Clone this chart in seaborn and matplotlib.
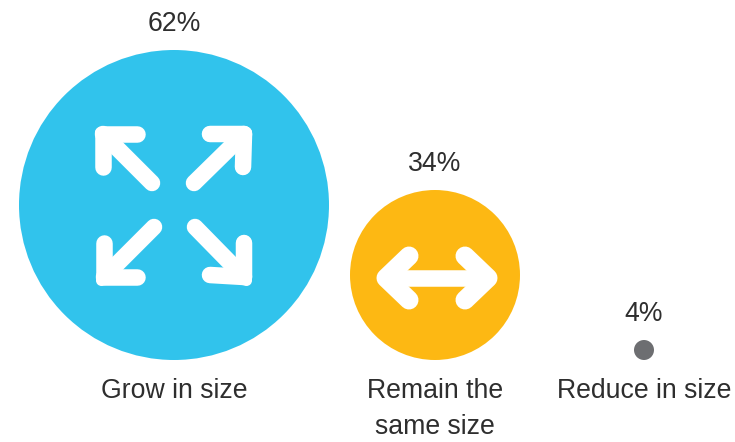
import matplotlib
matplotlib.use("Agg")
import matplotlib.pyplot as plt
import pandas as pd
import seaborn as sns

# Survey shares and how they are labelled
categories = ["Grow in size", "Remain the\nsame size", "Reduce in size"]
values = [62, 34, 4]
colors = ["#31C3EC", "#FDB813", "#6D6E71"]
x_centers = [174, 435, 644]

WIDTH, HEIGHT = 735, 442
DPI = 100
BASELINE = 360          # all circles rest on this line
RADIUS_PER_POINT = 2.5  # circle radius in pixels per percentage point
TEXT = "#2E2E2E"
FONT_SIZE = 19.2

sns.set_theme(style="white")
plt.rcParams["font.family"] = ["Liberation Sans", "DejaVu Sans"]

radii = [v * RADIUS_PER_POINT for v in values]
df = pd.DataFrame({
    "category": categories,
    "value": values,
    "x": x_centers,
    "y": [BASELINE - r for r in radii],
})

fig = plt.figure(figsize=(WIDTH / DPI, HEIGHT / DPI), dpi=DPI)
ax = fig.add_axes([0, 0, 1, 1])

# Marker area is the squared diameter in points
size_map = {v: (2 * r * 72 / DPI) ** 2 for v, r in zip(values, radii)}
sns.scatterplot(
    data=df, x="x", y="y", hue="category", size="value",
    palette=dict(zip(categories, colors)), sizes=size_map,
    linewidth=0, legend=False, ax=ax, zorder=2,
)

ax.set_xlim(0, WIDTH)
ax.set_ylim(HEIGHT, 0)
ax.axis("off")


def stroke(cx, cy, points, width=16.5):
    """White rounded icon stroke, offsets given relative to a circle centre."""
    xs = [cx + p[0] for p in points]
    ys = [cy + p[1] for p in points]
    ax.plot(xs, ys, color="white", lw=width * 72 / DPI, zorder=3,
            solid_capstyle="round", solid_joinstyle="round")


# Expanding icon: four arrows pointing away from the centre
big_x, big_y = df.loc[0, "x"], df.loc[0, "y"]
expand_arrows = [
    ((-22, -22), (-71, -71), (-37, -71), (-71, -38)),
    ((20, -22), (70, -71), (36, -71), (69, -38)),
    ((-20, 22), (-70, 72), (-70, 38), (-37, 72)),
    ((21, 22), (70, 72), (36, 70), (70, 38)),
]
for tail, tip, head_a, head_b in expand_arrows:
    stroke(big_x, big_y, [tail, tip])
    stroke(big_x, big_y, [head_a, tip, head_b])
    # A narrower stroke pushed outwards tightens the corner at the arrow tip
    sx = 2.5 if tip[0] > 0 else -2.5
    sy = 2.5 if tip[1] > 0 else -2.5
    stroke(big_x, big_y, [(tip[0] + sx, tip[1] + sy)], width=11)
    ax.plot(big_x + tip[0] + sx, big_y + tip[1] + sy, "o", color="white",
            ms=11 * 72 / DPI, mew=0, zorder=3)

# Double-headed arrow for the unchanged group
mid_x, mid_y = df.loc[1, "x"], df.loc[1, "y"]
stroke(mid_x, mid_y, [(-49, 3), (53, 3)])
stroke(mid_x, mid_y, [(-26, -19), (-49, 3), (-26, 25)], width=19)
stroke(mid_x, mid_y, [(30, -19), (53, 3), (30, 25)], width=19)

# Percentage above each circle, category name below the baseline
for row in df.itertuples():
    top = row.y - row.value * RADIUS_PER_POINT
    ax.text(row.x, top - 19, f"{row.value}%", ha="center", va="baseline",
            fontsize=FONT_SIZE, color=TEXT)
    for line_y, line in zip((398, 433.5), row.category.split("\n")):
        ax.text(row.x, line_y, line, ha="center", va="baseline",
                fontsize=FONT_SIZE, color=TEXT)

fig.savefig("out.png", dpi=DPI, facecolor="white")
